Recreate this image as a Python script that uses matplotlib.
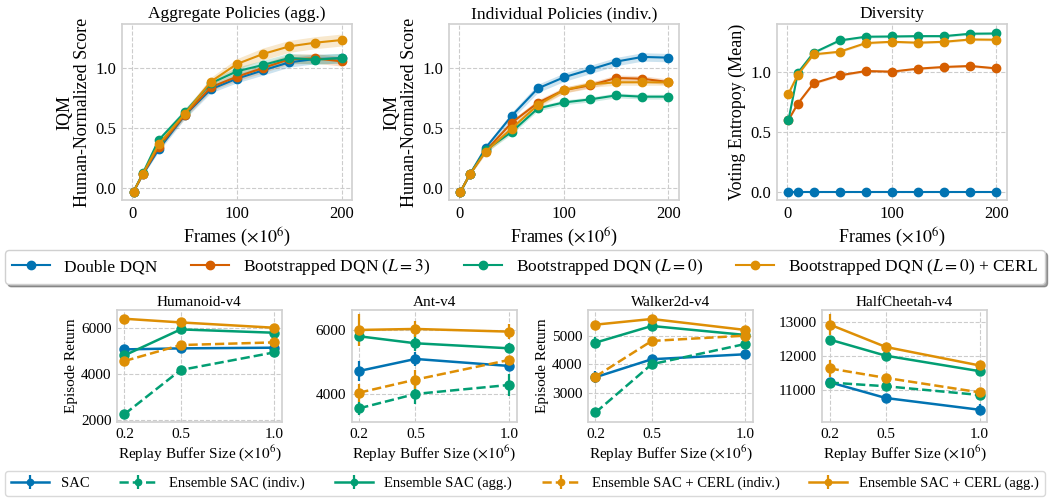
import matplotlib
matplotlib.use("Agg")
import matplotlib.pyplot as plt
import numpy as np

plt.rcParams["font.family"] = ["Liberation Serif", "DejaVu Serif"]
plt.rcParams["mathtext.fontset"] = "stix"
plt.rcParams["font.size"] = 11

C_BLUE = "#0173b2"
C_RED = "#d55e00"
C_GREEN = "#029e73"
C_ORANGE = "#de8f05"

# ---- Atari curves ----
frames = [1, 10, 25, 50, 75, 100, 125, 150, 175, 200]
atari_names = ["Double DQN", r"Bootstrapped DQN ($L = 3$)",
               r"Bootstrapped DQN ($L = 0$)", r"Bootstrapped DQN ($L = 0$) + CERL"]
atari_colors = [C_BLUE, C_RED, C_GREEN, C_ORANGE]

agg_scores = [
    [-0.03, 0.114, 0.322, 0.606, 0.825, 0.914, 0.983, 1.05, 1.078, 1.083],
    [-0.03, 0.117, 0.342, 0.611, 0.842, 0.93, 1.003, 1.075, 1.083, 1.058],
    [-0.03, 0.125, 0.40, 0.633, 0.875, 0.975, 1.028, 1.086, 1.072, 1.086],
    [-0.03, 0.12, 0.364, 0.62, 0.889, 1.036, 1.12, 1.183, 1.214, 1.236],
]
agg_ci = [
    [0.01, 0.01, 0.02, 0.03, 0.03, 0.035, 0.04, 0.04, 0.04, 0.04],
    [0.01, 0.01, 0.02, 0.03, 0.03, 0.035, 0.04, 0.04, 0.04, 0.04],
    [0.01, 0.01, 0.02, 0.03, 0.03, 0.035, 0.04, 0.04, 0.04, 0.04],
    [0.01, 0.01, 0.02, 0.03, 0.035, 0.045, 0.05, 0.05, 0.05, 0.05],
]
indiv_scores = [
    [-0.03, 0.115, 0.335, 0.603, 0.832, 0.925, 0.99, 1.056, 1.095, 1.089],
    [-0.03, 0.115, 0.31, 0.545, 0.712, 0.818, 0.858, 0.919, 0.913, 0.885],
    [-0.03, 0.115, 0.316, 0.469, 0.665, 0.715, 0.74, 0.774, 0.763, 0.763],
    [-0.03, 0.115, 0.304, 0.497, 0.693, 0.818, 0.866, 0.883, 0.883, 0.883],
]
indiv_ci = [
    [0.01, 0.01, 0.02, 0.03, 0.035, 0.035, 0.035, 0.035, 0.035, 0.035],
    [0.01, 0.01, 0.02, 0.025, 0.025, 0.025, 0.025, 0.025, 0.025, 0.025],
    [0.01, 0.01, 0.02, 0.02, 0.02, 0.02, 0.02, 0.02, 0.02, 0.02],
    [0.01, 0.01, 0.02, 0.025, 0.025, 0.025, 0.025, 0.025, 0.025, 0.025],
]
entropy = [
    [0.0] * 10,
    [0.601, 0.737, 0.906, 0.972, 1.008, 1.003, 1.028, 1.042, 1.05, 1.03],
    [0.601, 0.994, 1.16, 1.263, 1.294, 1.296, 1.299, 1.299, 1.319, 1.321],
    [0.82, 0.978, 1.147, 1.169, 1.241, 1.252, 1.244, 1.252, 1.271, 1.269],
]
entropy_ci = [
    [0.0] * 10,
    [0.01] * 10,
    [0.01] * 10,
    [0.01] * 10,
]

# ---- MuJoCo replay buffer sweep ----
buffer_sizes = [0.2, 0.5, 1.0]
envs = ["Humanoid-v4", "Ant-v4", "Walker2d-v4", "HalfCheetah-v4"]
sac_names = ["SAC", "Ensemble SAC (indiv.)", "Ensemble SAC (agg.)",
             "Ensemble SAC + CERL (indiv.)", "Ensemble SAC + CERL (agg.)"]
sac_colors = [C_BLUE, C_GREEN, C_GREEN, C_ORANGE, C_ORANGE]
sac_styles = ["-", "--", "-", "--", "-"]

returns = {
    "Humanoid-v4": [
        [5060, 5105, 5134],
        [2250, 4166, 4931],
        [4801, 5928, 5783],
        [4556, 5249, 5365],
        [6390, 6231, 6000],
    ],
    "Ant-v4": [
        [4726, 5099, 4881],
        [3565, 4011, 4291],
        [5803, 5586, 5430],
        [4052, 4456, 5068],
        [6000, 6031, 5948],
    ],
    "Walker2d-v4": [
        [3555, 4179, 4353],
        [2330, 4006, 4711],
        [4757, 5335, 5023],
        [3578, 4815, 5000],
        [5381, 5578, 5197],
    ],
    "HalfCheetah-v4": [
        [11229, 10761, 10413],
        [11219, 11110, 10851],
        [12493, 12015, 11557],
        [11637, 11358, 10930],
        [12940, 12274, 11726],
    ],
}
errors = {
    "Humanoid-v4": [
        [80, 60, 50],
        [60, 60, 60],
        [80, 60, 60],
        [80, 60, 60],
        [60, 60, 60],
    ],
    "Ant-v4": [
        [300, 220, 100],
        [200, 300, 330],
        [100, 250, 150],
        [280, 300, 100],
        [490, 250, 240],
    ],
    "Walker2d-v4": [
        [200, 100, 100],
        [80, 80, 80],
        [200, 80, 80],
        [100, 80, 80],
        [80, 60, 80],
    ],
    "HalfCheetah-v4": [
        [80, 100, 170],
        [80, 60, 60],
        [60, 60, 60],
        [250, 80, 80],
        [300, 80, 80],
    ],
}
ylims = {
    "Humanoid-v4": (1910, 6770),
    "Ant-v4": (3140, 6620),
    "Walker2d-v4": (2000, 5890),
    "HalfCheetah-v4": (10050, 13370),
}
yticks = {
    "Humanoid-v4": [2000, 4000, 6000],
    "Ant-v4": [4000, 6000],
    "Walker2d-v4": [3000, 4000, 5000],
    "HalfCheetah-v4": [11000, 12000, 13000],
}


def style_axes(ax, labelsize):
    ax.set_facecolor("white")
    for s in ax.spines.values():
        s.set_color("#d0d0d0")
        s.set_linewidth(1.2)
    ax.grid(True, linestyle="--", color="#cccccc", linewidth=0.8)
    ax.set_axisbelow(True)
    ax.tick_params(length=0, pad=4, labelsize=labelsize)


fig = plt.figure(figsize=(10.5, 5), dpi=100)

top_lefts = [0.1162, 0.4276, 0.74]
top_axes = [fig.add_axes([l, 0.6, 0.219, 0.352]) for l in top_lefts]
panels = [
    ("Aggregate Policies (agg.)", agg_scores, agg_ci),
    ("Individual Policies (indiv.)", indiv_scores, indiv_ci),
    ("Diversity", entropy, entropy_ci),
]
top_handles = []
for i, (ax, (title, series, ci)) in enumerate(zip(top_axes, panels)):
    style_axes(ax, 12)
    for j, (vals, half, col) in enumerate(zip(series, ci, atari_colors)):
        vals = np.array(vals)
        half = np.array(half)
        ax.fill_between(frames, vals - half, vals + half, color=col, alpha=0.2, lw=0)
        h, = ax.plot(frames, vals, color=col, marker="o", markersize=6, lw=1.5,
                     label=atari_names[j])
        if i == 0:
            top_handles.append(h)
    ax.set_title(title, fontsize=12.5, pad=4)
    ax.set_xlabel(r"Frames ($\times 10^6$)", fontsize=13, labelpad=3)
    ax.set_xticks([0, 100, 200])
    ax.set_xlim(-10, 210)
    ax.set_yticks([0.0, 0.5, 1.0])
    if i < 2:
        ax.set_ylim(-0.1, 1.37)
        ax.set_ylabel("IQM\nHuman-Normalized Score", fontsize=13, labelpad=3,
                      linespacing=1.05)
    else:
        ax.set_ylim(-0.067, 1.4)
        ax.set_ylabel("Voting Entropoy (Mean)", fontsize=13, labelpad=3)

fig.legend(handles=top_handles, loc="center", ncol=4, mode="expand",
           bbox_to_anchor=(0.005, 0.436, 0.99, 0.06), fontsize=12.5,
           frameon=True, fancybox=True, shadow=True, edgecolor="#d0d0d0",
           handlelength=2.2, borderaxespad=0)

bottom_lefts = [0.1114, 0.335, 0.56, 0.783]
bottom_handles = []
for k, (env, left) in enumerate(zip(envs, bottom_lefts)):
    ax = fig.add_axes([left, 0.156, 0.157, 0.224])
    style_axes(ax, 11)
    for j in range(5):
        eb = ax.errorbar(buffer_sizes, returns[env][j], yerr=errors[env][j],
                         color=sac_colors[j], ls=sac_styles[j], marker="o",
                         markersize=6.5, lw=1.8, elinewidth=1.6, capsize=0,
                         label=sac_names[j])
        if k == 0:
            bottom_handles.append(eb)
    ax.set_title(env, fontsize=11, pad=3)
    ax.set_xlabel(r"Replay Buffer Size ($\times 10^6$)", fontsize=11, labelpad=2)
    ax.set_xticks(buffer_sizes)
    ax.set_xticklabels(["0.2", "0.5", "1.0"])
    ax.set_xlim(0.16, 1.04)
    ax.set_ylim(*ylims[env])
    ax.set_yticks(yticks[env])
    if env in ("Humanoid-v4", "Walker2d-v4"):
        ax.set_ylabel("Episode Return", fontsize=11, labelpad=2)

fig.legend(handles=bottom_handles, loc="center", ncol=5, mode="expand",
           bbox_to_anchor=(0.005, 0.006, 0.99, 0.054), fontsize=10.5,
           frameon=True, fancybox=True, edgecolor="#d0d0d0",
           handlelength=2.6, borderaxespad=0, markerscale=0.7)

fig.savefig("out.png", dpi=100)
